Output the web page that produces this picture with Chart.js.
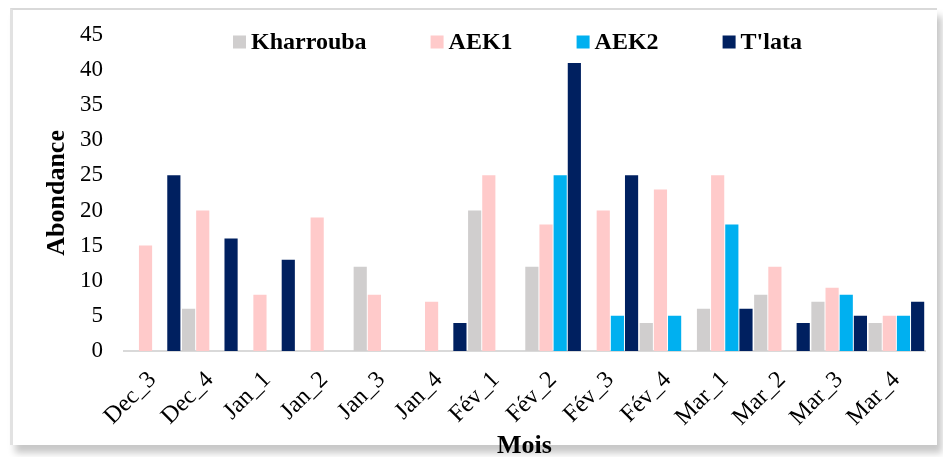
<!DOCTYPE html>
<html>
<head>
<meta charset="utf-8">
<script src="https://cdn.jsdelivr.net/npm/chart.js@4/dist/chart.umd.min.js"></script>
<style>
  html, body { margin: 0; padding: 0; background: #fff; }
  #wrap { position: relative; width: 943px; height: 457px; overflow: hidden; }
  #frame {
    position: absolute; left: 10px; top: 8px; width: 924px; height: 435px;
    background: #fff;
    border-top: 2px solid #d9d9d9;
    border-left: 3px solid #e2e2e2;
    box-shadow: 5px 8px 7px rgba(0,0,0,0.22);
  }
  #chart { position: absolute; left: 0; top: 0; }
</style>
</head>
<body>
<div id="wrap">
  <div id="frame"></div>
  <canvas id="chart" width="943" height="457"></canvas>
</div>
<script>
// Sampling weeks (month_week)
const weeks = ['Dec_3', 'Dec_4', 'Jan_1', 'Jan_2', 'Jan_3', 'Jan_4', 'Fév_1', 'Fév_2', 'Fév_3', 'Fév_4', 'Mar_1', 'Mar_2', 'Mar_3', 'Mar_4'];

// Abundance per station
const kharrouba = [0, 6, 0, 0, 12, 0, 20, 12, 0, 4, 6, 8, 7, 4];
const aek1      = [15, 20, 8, 19, 8, 7, 25, 18, 20, 23, 25, 12, 9, 5];
const aek2      = [0, 0, 0, 0, 0, 0, 0, 25, 5, 5, 18, 0, 8, 5];
const tlata     = [25, 16, 13, 0, 0, 4, 0, 41, 25, 0, 6, 4, 5, 7];

const yTicks = [0, 5, 10, 15, 20, 25, 30, 35, 40, 45];

const serif = '"Liberation Serif", "Times New Roman", serif';

// Legend drawn over the top of the plot area, one row of square swatches
const floatingLegend = {
  id: 'floatingLegend',
  afterDraw(chart, args, opts) {
    const { ctx, chartArea } = chart;
    ctx.save();
    ctx.font = 'bold 24px ' + serif;
    ctx.textBaseline = 'middle';
    ctx.textAlign = 'left';
    let x = chartArea.left + opts.offsetX;
    const y = opts.y;
    chart.data.datasets.forEach(ds => {
      ctx.fillStyle = ds.backgroundColor;
      ctx.fillRect(x, y - 6.5, 13, 13);
      x += 13 + 5;
      ctx.fillStyle = '#000';
      ctx.fillText(ds.label, x, y + 1);
      x += ctx.measureText(ds.label).width + opts.gap;
    });
    ctx.restore();
  }
};

new Chart(document.getElementById('chart'), {
  type: 'bar',
  data: {
    labels: weeks,
    datasets: [
      { label: 'Kharrouba', data: kharrouba, backgroundColor: '#d0cece' },
      { label: 'AEK1',      data: aek1,      backgroundColor: '#ffcaca' },
      { label: 'AEK2',      data: aek2,      backgroundColor: '#00b0f0' },
      { label: "T'lata",    data: tlata,     backgroundColor: '#002060' }
    ]
  },
  options: {
    responsive: false,
    animation: false,
    events: [],
    datasets: { bar: { categoryPercentage: 0.99, barPercentage: 0.93 } },
    layout: { padding: { left: 30, top: 32, right: 18, bottom: 0 } },
    plugins: {
      legend: { display: false },
      tooltip: { enabled: false },
      floatingLegend: { offsetX: 109, y: 42, gap: 64 }
    },
    scales: {
      x: {
        grid: { display: false, drawTicks: false },
        border: { display: true, color: '#d9d9d9', width: 2 },
        ticks: {
          autoSkip: false, minRotation: 45, maxRotation: 45,
          color: '#000', padding: 15,
          font: { family: serif, size: 24 }
        },
        title: {
          display: true, text: 'Mois', color: '#000',
          font: { family: serif, size: 26, weight: 'bold', lineHeight: 1 },
          padding: { top: 0, bottom: -2 }
        },
        afterFit(scale) { scale.height = 106; }
      },
      y: {
        min: 0, max: 45,
        grid: { display: false, drawTicks: false },
        border: { display: false },
        afterBuildTicks(scale) { scale.ticks = yTicks.map(v => ({ value: v })); },
        ticks: {
          color: '#000', padding: 21,
          font: { family: serif, size: 23 }
        },
        title: {
          display: true, text: 'Abondance', color: '#000',
          font: { family: serif, size: 26, weight: 'bold' },
          padding: { top: 12, bottom: 0 }
        },
        afterFit(scale) { scale.width = 94; }
      }
    }
  },
  plugins: [floatingLegend]
});
</script>
</body>
</html>
